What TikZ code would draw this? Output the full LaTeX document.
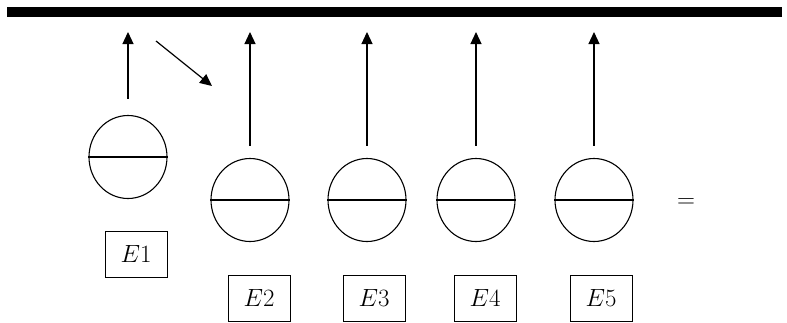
\documentclass[tikz,border=0pt]{standalone}
\usetikzlibrary{shapes.geometric,arrows.meta}
\begin{document}
\begin{tikzpicture}[x=1pt,y=-1pt,>={Triangle[length=12pt,width=11pt]}]
        \useasboundingbox (0,0) rectangle (787,322);

        % wall
        \coordinate (w1) at (7,12);
        \coordinate (w2) at (782,12);
        \draw[line width=10pt] (w1) -- (w2);

        \begin{scope}[every node/.style={ellipse,draw,line width=1.1pt,minimum width=78pt,minimum height=83pt,inner sep=0pt}]
          \node (e1) at (128,157) {};
          \node (e2) at (250,200) {};
          \node (e3) at (367,200) {};
          \node (e4) at (476,200) {};
          \node (e5) at (594,200) {};
        \end{scope}

        \foreach \n in {1,...,5}
          \draw[line width=1.1pt] (e\n.west) -- (e\n.east);

        \begin{scope}[every node/.style={draw,line width=1pt,minimum width=62pt,minimum height=46pt,font=\fontsize{24}{28}\selectfont}]
          \node (l1) at (136,254) {$E1$};
          \node (l2) at (259,298) {$E2$};
          \node (l3) at (374,298) {$E3$};
          \node (l4) at (485,298) {$E4$};
          \node (l5) at (601,298) {$E5$};
        \end{scope}

        \node[font=\fontsize{24}{28}\selectfont] (eq) at (686,203) {$=$};

        \coordinate (t1) at (128,32);
        \coordinate (t2) at (250,32);
        \coordinate (t3) at (367,32);
        \coordinate (t4) at (476,32);
        \coordinate (t5) at (594,32);
        \coordinate (d1) at (156,41);
        \coordinate (d2) at (212,86);

        \begin{scope}[line width=1.2pt]
          \draw[->, shorten <=16pt] (e1) -- (t1);
          \draw[->, shorten <=12pt] (e2) -- (t2);
          \draw[->, shorten <=12pt] (e3) -- (t3);
          \draw[->, shorten <=12pt] (e4) -- (t4);
          \draw[->, shorten <=12pt] (e5) -- (t5);
          \draw[->] (d1) -- (d2);
        \end{scope}

      \end{tikzpicture}
\end{document}
